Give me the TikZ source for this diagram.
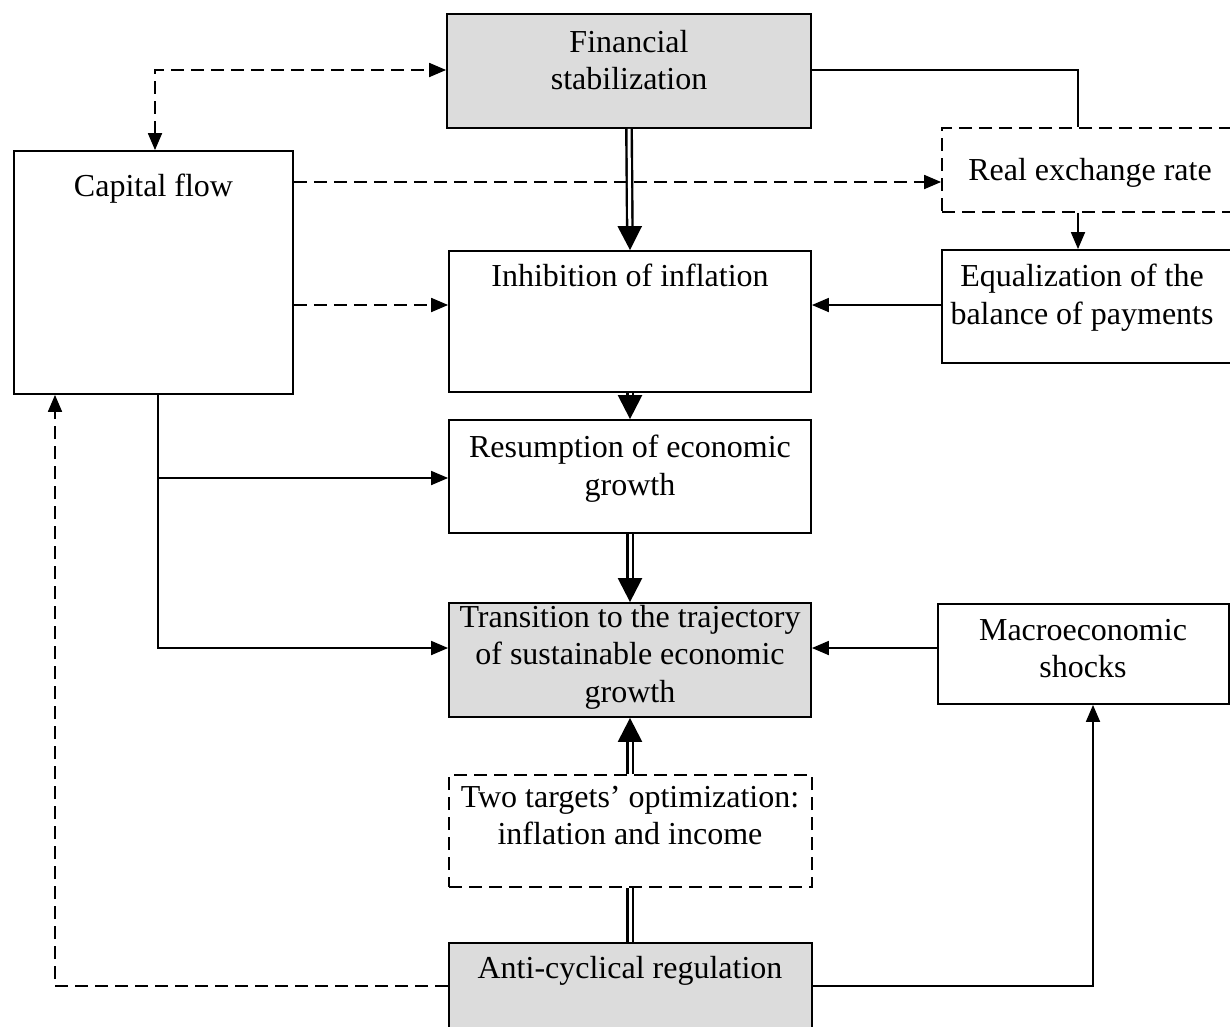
\documentclass[tikz,border=0pt]{standalone}
\usepackage{fontspec}
\setmainfont{Liberation Serif}
\usetikzlibrary{arrows.meta,calc}
\definecolor{boxgray}{HTML}{DCDCDC}
\tikzset{
  box/.style={draw, line width=1.8pt, inner sep=0pt, rectangle},
  dbox/.style={box, dash pattern=on 13pt off 7pt},
  gbox/.style={box, fill=boxgray},
  txt/.style={anchor=north, inner sep=0pt, align=center, font=\fontsize{32}{37.5}\selectfont},
  conn/.style={line width=1.8pt},
  dconn/.style={conn, dash pattern=on 13pt off 7pt},
  tip/.style={-{Triangle[length=17pt,width=14pt]}},
  dbl/.style={double, double distance=3pt, line width=2.4pt, -{Triangle[length=24pt,width=24pt]}},
  dblnt/.style={double, double distance=3pt, line width=2.4pt},
}
\begin{document}
\begin{tikzpicture}[x=1pt,y=-1pt]
\useasboundingbox (0,0) rectangle (1230,1026);
\clip (0,0) rectangle (1230,1026);
% boxes
\node[gbox, minimum width=364pt, minimum height=114pt] (fs) at (629,71) {};
\node[box, minimum width=279pt, minimum height=243pt] (cf) at (153.5,272.5) {};
\node[dbox, minimum width=303pt, minimum height=84pt] (rer) at (1093.5,170) {};
\node[box, minimum width=362pt, minimum height=141pt] (inh) at (630,321.5) {};
\node[box, minimum width=303pt, minimum height=113pt] (eq) at (1093.5,306.5) {};
\node[box, minimum width=362pt, minimum height=113pt] (res) at (630,476.5) {};
\node[gbox, minimum width=362pt, minimum height=114pt] (tr) at (630,660) {};
\node[box, minimum width=291pt, minimum height=100pt] (mac) at (1083.5,654) {};
\node[dbox, minimum width=363pt, minimum height=112pt] (two) at (630.5,831) {};
\node[gbox, minimum width=363pt, minimum height=102pt] (anti) at (630.5,994) {};
% texts
\node[txt] (tfs) at (629,30) {Financial\\stabilization};
\node[txt] (tcf) at (153.5,174) {Capital flow};
\node[txt] (trer) at (1090,158) {Real exchange rate};
\node[txt] (tinh) at (630,264) {Inhibition of inflation};
\node[txt] (teq) at (1082,264) {Equalization of the\\balance of payments};
\node[txt] (tres) at (630,435) {Resumption of economic\\growth};
\node[txt] (ttr) at (630,605) {Transition to the trajectory\\of sustainable economic\\growth};
\node[txt] (tmac) at (1083,619) {Macroeconomic\\shocks};
\node[txt] (ttwo) at (630,786) {Two targets’ optimization:\\inflation and income};
\node[txt] (tanti) at (630,956) {Anti-cyclical regulation};
% helper coordinates
\coordinate (rx) at (1078,0);
\coordinate (ya) at (0,182);
\coordinate (yb) at (0,305);
\coordinate (cx) at (158,0);
\coordinate (yres) at (0,478);
\coordinate (ytr) at (0,648);
\coordinate (yanti) at (0,986);
\coordinate (lx) at (55,0);
\coordinate (mx) at (1093,0);
\coordinate (cfx) at (155,0);
\coordinate (fsy) at (0,70);
\coordinate (br) at (cf.south -| cx);
% connectors
\draw[dconn, {Triangle[length=17pt,width=14pt]}-{Triangle[length=17pt,width=14pt]}] (cf.north -| cfx) |- (fs.west |- fsy);
\draw[conn] (fs.east |- fsy) -| (rer.north -| rx);
\draw[conn, tip] (rer.south -| rx) -- (eq.north -| rx);
\draw[dconn, tip] (cf.east |- ya) -- (rer.west |- ya);
\draw[dconn, tip] (cf.east |- yb) -- (inh.west |- yb);
\draw[conn, tip] (eq.west |- yb) -- (inh.east |- yb);
\draw[dbl] (fs.south) -- (inh.north);
\draw[dbl] (inh.south) -- (res.north);
\draw[dbl] (res.south) -- (tr.north);
\draw[dbl] (two.north -| tr.south) -- (tr.south);
\draw[dblnt] (anti.north -| tr.south) -- (two.south -| tr.south);
\draw[conn, tip] (br) |- (tr.west |- ytr);
\draw[conn, tip] (br |- yres) -- (res.west |- yres);
\draw[conn, tip] (mac.west |- ytr) -- (tr.east |- ytr);
\draw[dconn, tip] (anti.west |- yanti) -| (cf.south -| lx);
\draw[conn, tip] (anti.east |- yanti) -| (mac.south -| mx);
\end{tikzpicture}
\end{document}
